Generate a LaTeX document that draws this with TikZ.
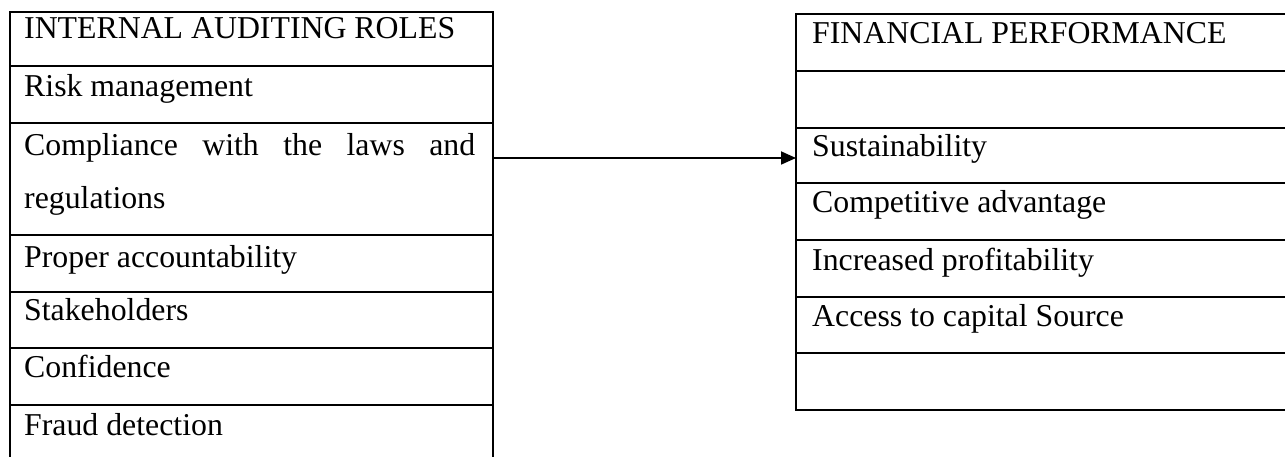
\documentclass[tikz,border=0pt]{standalone}
\usepackage{fontspec}
\setmainfont{Liberation Serif}
\usetikzlibrary{positioning,arrows.meta}

\begin{document}
\begin{tikzpicture}[x=1pt,y=-1pt,
  txt/.style={anchor=base west,inner sep=0pt,font=\fontsize{31.8}{38}\selectfont},
  rule/.style={line width=1.8pt},
  conn/.style={line width=1.8pt,-{Triangle[length=15pt,width=13pt]}}]
  \useasboundingbox (0,0) rectangle (1285,457);

  % left table (open at the bottom)
  \draw[rule] (10,457) -- (10,12) -- (493,12) -- (493,457);
  \foreach \y in {66,123,235,292,348,405}
    \draw[rule] (10,\y) -- (493,\y);
  \node[txt] (roles) at (24,39) {INTERNAL AUDITING ROLES};
  \node[txt] (risk) at (24,97) {Risk management};
  \node[txt] (laws) at (24,156) {\makebox[451pt][s]{Compliance with the laws and}};
  \node[txt] (regs) at (24,209) {regulations};
  \node[txt] (acct) at (24,267) {Proper accountability};
  \node[txt] (stake) at (24,320) {Stakeholders};
  \node[txt] (conf) at (24,377) {Confidence};
  \node[txt] (fraud) at (24,435) {Fraud detection};

  % right table (open at the right)
  \draw[rule] (1285,14) -- (796,14) -- (796,410) -- (1285,410);
  \foreach \y in {71,128,183,240,297,353}
    \draw[rule] (796,\y) -- (1285,\y);
  \node[txt] (perf) at (812,44) {FINANCIAL PERFORMANCE};
  \node[txt] (sust) at (812,157) {Sustainability};
  \node[txt] (comp) at (812,213) {Competitive advantage};
  \node[txt] (prof) at (812,270) {Increased profitability};
  \node[txt] (cap) at (812,326) {Access to capital Source};

  \coordinate (lout) at (493,158);
  \coordinate (rin) at (796,158);
  \draw[conn] (lout) -- (rin);
\end{tikzpicture}
\end{document}
